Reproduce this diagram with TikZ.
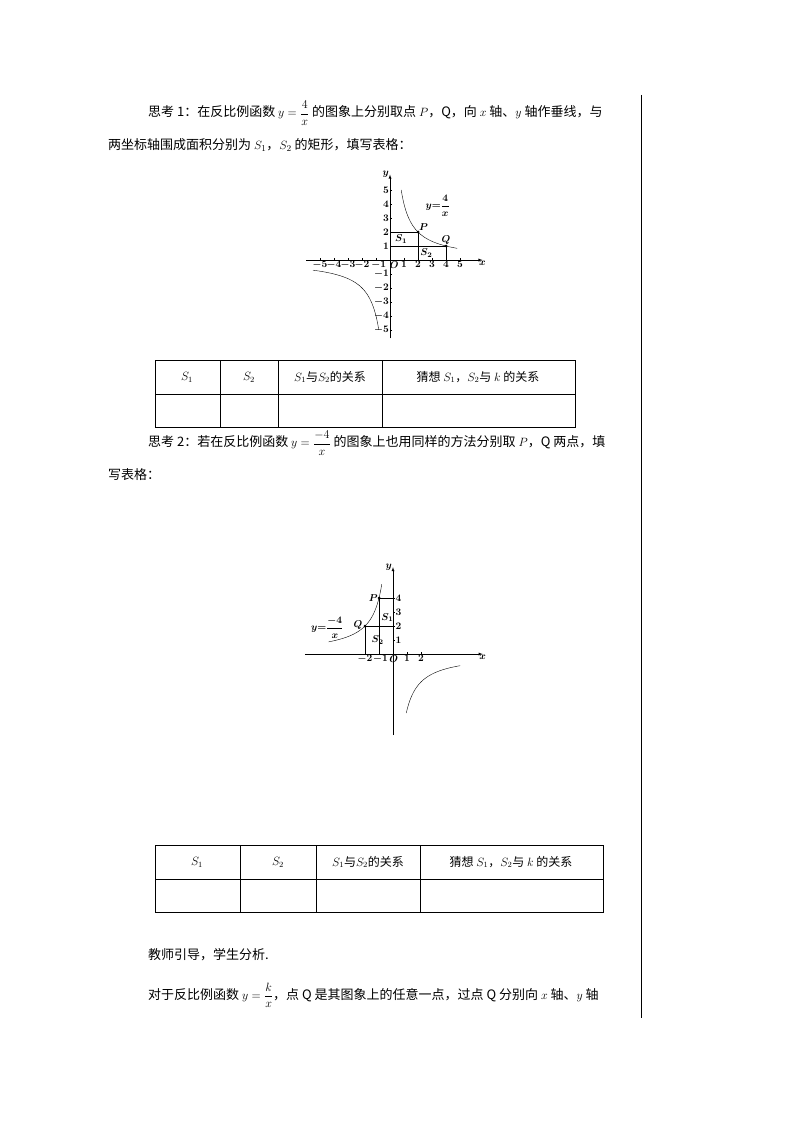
\documentclass[tikz,border=0pt]{standalone}
\usepackage{fontspec}
\usepackage{amsmath}
\newfontfamily\cjk{Noto Sans CJK SC}
\begin{document}
\begin{tikzpicture}[x=1pt,y=-1pt,font=\cjk\fontsize{13}{16}\selectfont,
  txt/.style={anchor=west,inner sep=0pt},
  lbl/.style={font=\fontsize{10}{11}\selectfont\boldmath,inner sep=1pt},
  cell/.style={font=\cjk\fontsize{12}{14}\selectfont}]
\useasboundingbox (0,0) rectangle (794,1123);
\draw (641,95)--(641,1018);

% think 1
\node[txt] (t1) at (148,113) {思考 1：在反比例函数 $y=\dfrac{4}{x}$ 的图象上分别取点 $P$，Q，向 $x$ 轴、$y$ 轴作垂线，与};
\node[txt] (t1b) at (108,145) {两坐标轴围成面积分别为 $S_1$，$S_2$ 的矩形，填写表格：};

% graph 1
\begin{scope}[shift={(390,260)},x=14pt,y=14pt]
  \draw[-latex] (-6,0)--(6.6,0) node[lbl,below] (gx) {$x$};
  \draw[-latex] (0,-5.6)--(0,6.1) node[lbl,left] (gy) {$y$};
  \foreach \u in {1,...,5}
    {
      \draw (\u,0)--(\u,0.12); \draw (-\u,0)--(-\u,0.12);
      \draw (0,\u)--(0.12,\u); \draw (0,-\u)--(0.12,-\u);
      \node[lbl,left] at (0,\u) {$\u$};
      \node[lbl,left] at (0,-\u) {$-\u$};
    }
  \foreach \u in {2,...,5} \node[lbl,below] at (-\u,0) {$-\u$};
  \foreach \u in {2,3,4,5} \node[lbl,below] at (\u,0) {$\u$};
  \node[lbl,below] at (-0.8,0) {$-1$};
  \node[lbl,below] (o1) at (0.3,0) {$O$};
  \node[lbl,below] at (1,0) {$1$};
  \draw[domain=0.8:4.8,samples=60] plot (\x,{4/\x});
  \draw[domain=-5.5:-0.8,samples=60] plot (\x,{4/\x});
  \draw (0,2)--(2,2)--(2,0) (0,1)--(4,1)--(4,0);
  \fill (2,2) circle (1.5pt) (4,1) circle (1.5pt);
  \node[lbl,above right] (p1) at (2,2) {$P$};
  \node[lbl,above] (q1) at (4,1) {$Q$};
  \node[lbl] (s11) at (0.8,1.5) {$S_1$};
  \node[lbl] (s21) at (2.6,0.5) {$S_2$};
  \node[lbl] (f1) at (3.4,3.9) {$y{=}\dfrac{4}{x}$};
\end{scope}

% table 1
\draw (155,360) rectangle (575,427) (155,394)--(575,394);
\foreach \u in {220,278,382} \draw (\u,360)--(\u,427);
\node[cell] (a1) at (187,377) {$S_1$};
\node[cell] (b1) at (249,377) {$S_2$};
\node[cell] (c1) at (330,377) {$S_1$与$S_2$的关系};
\node[cell] (d1) at (478,377) {猜想 $S_1$，$S_2$与 $k$ 的关系};

% think 2
\node[txt] (t2) at (148,443) {思考 2：若在反比例函数 $y=\dfrac{-4}{x}$ 的图象上也用同样的方法分别取 $P$，Q 两点，填};
\node[txt] (t2b) at (108,475) {写表格：};

% graph 2
\begin{scope}[shift={(393,654)},x=14pt,y=14pt]
  \draw[-latex] (-6.3,0)--(6.4,0) node[lbl,below] (hx) {$x$};
  \draw[-latex] (0,-5.8)--(0,6.2) node[lbl,left] (hy) {$y$};
  \foreach \u in {1,...,4}
    {
      \draw (0,\u)--(0.12,\u);
      \node[lbl,right] at (0.1,\u) {$\u$};
    }
  \foreach \u in {1,2}
    {
      \draw (\u,0)--(\u,0.12);
      \node[lbl,below] at (\u,0) {$\u$};
    }
  \node[lbl,below] at (-2,0) {$-2$};
  \node[lbl,below] at (-0.9,0) {$-1$};
  \node[lbl,below] (o2) at (0.05,0) {$O$};
  \draw[domain=-4.6:-0.8,samples=60] plot (\x,{-4/\x});
  \draw[domain=0.95:4.8,samples=60] plot (\x,{-4/\x});
  \draw (-1,0)--(-1,4)--(0,4) (-2,0)--(-2,2)--(0,2);
  \fill (-1,4) circle (1.5pt) (-2,2) circle (1.5pt);
  \node[lbl,left] (p2) at (-1,4) {$P$};
  \node[lbl,left] (q2) at (-2.1,2.1) {$Q$};
  \node[lbl] (s12) at (-0.4,2.6) {$S_1$};
  \node[lbl] (s22) at (-1.1,1) {$S_2$};
  \node[lbl] (f2) at (-4.7,1.9) {$y{=}\dfrac{-4}{x}$};
\end{scope}

% table 2
\draw (155,845) rectangle (603,912) (155,879)--(603,879);
\foreach \u in {240,316,420} \draw (\u,845)--(\u,912);
\node[cell] (a2) at (197,862) {$S_1$};
\node[cell] (b2) at (278,862) {$S_2$};
\node[cell] (c2) at (368,862) {$S_1$与$S_2$的关系};
\node[cell] (d2) at (511,862) {猜想 $S_1$，$S_2$与 $k$ 的关系};

\node[txt] (t3) at (148,955) {教师引导，学生分析.};
\node[txt] (t4) at (148,995) {对于反比例函数 $y=\dfrac{k}{x}$，点 Q 是其图象上的任意一点，过点 Q 分别向 $x$ 轴、$y$ 轴};
\end{tikzpicture}
\end{document}
